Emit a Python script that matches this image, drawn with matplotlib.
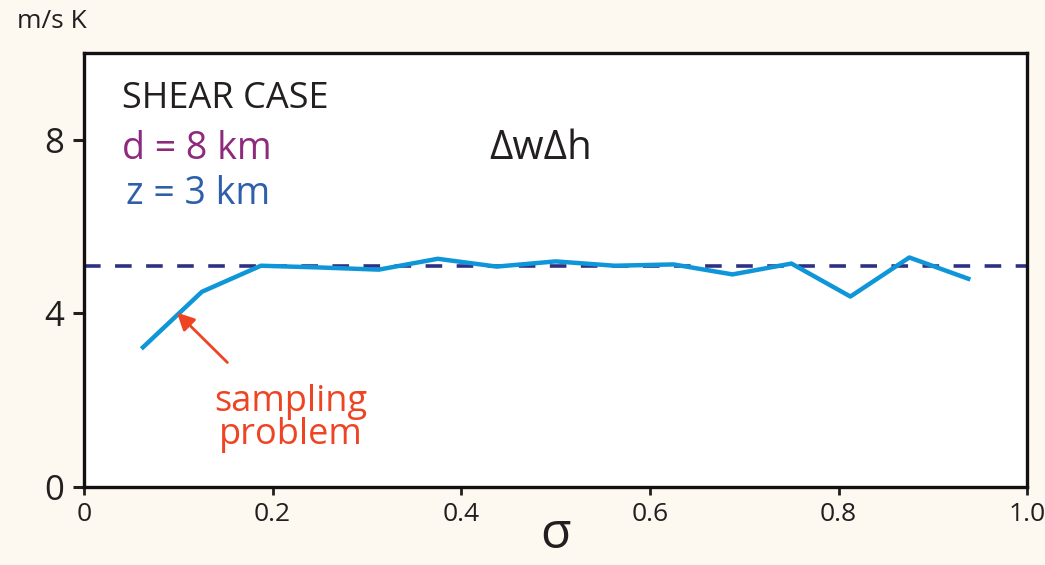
import matplotlib.pyplot as plt

# datos
sigma = [0.0625, 0.125, 0.1875, 0.25, 0.3125, 0.375, 0.4375, 0.5,
         0.5625, 0.625, 0.6875, 0.75, 0.8125, 0.875, 0.9375]
dwdh = [3.22, 4.5, 5.1, 5.06, 5.01, 5.26, 5.08, 5.2,
        5.1, 5.13, 4.9, 5.15, 4.39, 5.29, 4.8]
ref_level = 5.1
x_ticks = [0, 0.2, 0.4, 0.6, 0.8, 1.0]
x_labels = ['0', '0.2', '0.4', '0.6', '0.8', '1.0']
y_ticks = [0, 4, 8]

bg = '#fdf8f0'
plt.rcParams['font.family'] = ['Open Sans', 'DejaVu Sans']

fig = plt.figure(figsize=(10.45, 5.65), dpi=100, facecolor=bg)
ax = fig.add_axes([0.0804, 0.138, 0.9026, 0.768])
ax.set_facecolor('white')

ax.axhline(ref_level, color='#2e3183', lw=2.6, ls=(0, (4.6, 4.0)), zorder=2)
ax.plot(sigma, dwdh, color='#0f96d8', lw=3.2, zorder=3)

ax.set_xlim(0, 1.0)
ax.set_ylim(0, 10)
ax.set_xticks(x_ticks)
ax.set_xticklabels(x_labels)
ax.set_yticks(y_ticks)
ax.tick_params(axis='x', length=6, width=2, labelsize=19, pad=5, colors='#231f20')
ax.tick_params(axis='y', length=8, width=2.2, labelsize=25, pad=6, colors='#231f20')
for s in ax.spines.values():
    s.set_linewidth(2.4)
    s.set_color('#111111')

ax.set_xlabel('σ', fontsize=36, labelpad=-12, color='#231f20')
fig.text(0.016, 0.962, 'm/s K', fontsize=19, color='#231f20', va='center')

ax.text(0.04, 8.95, 'SHEAR CASE', fontsize=26, color='#231f20', va='center')
ax.text(0.04, 7.8, 'd = 8 km', fontsize=27, color='#8e2a7e', va='center')
ax.text(0.045, 6.75, 'z = 3 km', fontsize=27, color='#2e5fab', va='center')
ax.text(0.43, 7.8, 'ΔwΔh', fontsize=29, color='#231f20', va='center')

# anotacion del problema de muestreo
ax.text(0.219, 1.58, 'sampling\nproblem', ha='center', va='center',
        fontsize=26, color='#ee4423', linespacing=0.9)
ax.annotate('', xy=(0.0985, 4.02), xytext=(0.152, 2.87),
            arrowprops=dict(arrowstyle='-|>', color='#ee4423', lw=2,
                            mutation_scale=26, shrinkA=0, shrinkB=0))

plt.savefig('out.png', dpi=100, facecolor=bg)
